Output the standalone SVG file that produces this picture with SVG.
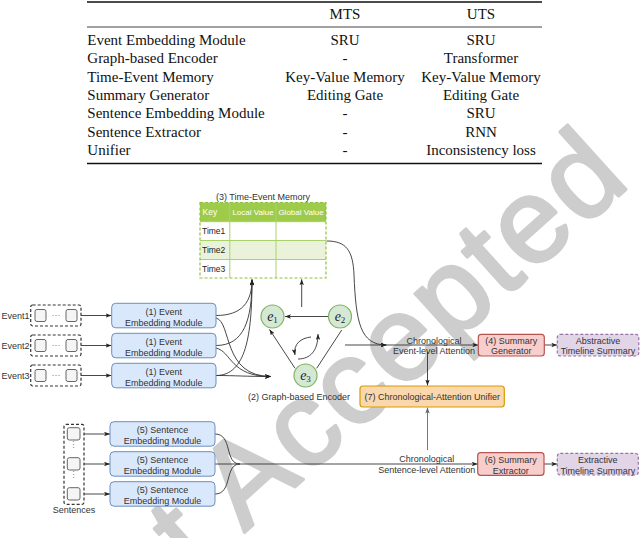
<svg xmlns="http://www.w3.org/2000/svg" width="640" height="538" viewBox="0 0 640 538">
<style>
.tb{font-family:"Liberation Serif",serif;font-size:15px;fill:#111}
.tc{text-anchor:middle}
.t9{font-family:"Liberation Sans",Arial,sans-serif;font-size:9px;fill:#333}
.mid{text-anchor:middle}
.blue{fill:#dae8fc;stroke:#6c8ebf;stroke-width:1}
.red{fill:#f8cecc;stroke:#b85450;stroke-width:1.2}
.pur{fill:#e1d5e7;stroke:#9673a6;stroke-width:1.2;stroke-dasharray:3 2}
.org{fill:#fad7ac;stroke:#d79b00;stroke-width:1.2}
.dash{fill:#fff;stroke:#333;stroke-width:1.2;stroke-dasharray:3 2}
.sq{fill:#f5f5f5;stroke:#666;stroke-width:1}
.node{fill:#d5e8d4;stroke:#82b366;stroke-width:1.2}
.ln{fill:none;stroke:#333;stroke-width:0.9}
.ar{marker-end:url(#ah)}
.ev{font-family:"Liberation Serif",serif;font-style:italic;font-size:14px;fill:#222}
</style>
<defs>
<marker id="ah" viewBox="0 0 8 6" refX="8" refY="3" markerWidth="6" markerHeight="4.5" orient="auto" markerUnits="userSpaceOnUse"><path d="M0,0 L8,3 L0,6 L2,3 z" fill="#222"/></marker>
<marker id="ahg" viewBox="0 0 8 6" refX="8" refY="3" markerWidth="6" markerHeight="4.5" orient="auto" markerUnits="userSpaceOnUse"><path d="M0,0 L8,3 L0,6 L2,3 z" fill="#666"/></marker>
</defs>
<rect width="640" height="538" fill="#fff"/>
<text x="634" y="182" transform="rotate(-42 634 182)" text-anchor="end" font-family="Liberation Sans,Arial,sans-serif" font-size="120" letter-spacing="3" fill="#cdcdcd" stroke="#cdcdcd" stroke-width="3" stroke-linejoin="round">Just Accepted</text>

<g id="table">
<line x1="87" y1="2" x2="542" y2="2" stroke="#111" stroke-width="1.4"/>
<line x1="87" y1="27" x2="542" y2="27" stroke="#111" stroke-width="0.8"/>
<line x1="87" y1="163.5" x2="542" y2="163.5" stroke="#111" stroke-width="1.4"/>
<text class="tb tc" x="345" y="19">MTS</text>
<text class="tb tc" x="481" y="19">UTS</text>
<text class="tb" x="87.3" y="45">Event Embedding Module</text>
<text class="tb tc" x="345" y="45">SRU</text>
<text class="tb tc" x="481" y="45">SRU</text>
<text class="tb" x="87.3" y="63.3">Graph-based Encoder</text>
<text class="tb tc" x="345" y="63.3">-</text>
<text class="tb tc" x="481" y="63.3">Transformer</text>
<text class="tb" x="87.3" y="81.7">Time-Event Memory</text>
<text class="tb tc" x="345" y="81.7">Key-Value Memory</text>
<text class="tb tc" x="481" y="81.7">Key-Value Memory</text>
<text class="tb" x="87.3" y="100">Summary Generator</text>
<text class="tb tc" x="345" y="100">Editing Gate</text>
<text class="tb tc" x="481" y="100">Editing Gate</text>
<text class="tb" x="87.3" y="118.3">Sentence Embedding Module</text>
<text class="tb tc" x="345" y="118.3">-</text>
<text class="tb tc" x="481" y="118.3">SRU</text>
<text class="tb" x="87.3" y="136.7">Sentence Extractor</text>
<text class="tb tc" x="345" y="136.7">-</text>
<text class="tb tc" x="481" y="136.7">RNN</text>
<text class="tb" x="87.3" y="155">Unifier</text>
<text class="tb tc" x="345" y="155">-</text>
<text class="tb tc" x="481" y="155">Inconsistency loss</text>
</g>

<g id="connectors">
<line class="ln ar" x1="81" y1="315.5" x2="111.5" y2="315.5"/>
<line class="ln ar" x1="81" y1="345.5" x2="111.5" y2="345.5"/>
<line class="ln ar" x1="81" y1="375.5" x2="111.5" y2="375.5"/>
<path class="ln ar" d="M216,315.5 C242,315.5 252,302 252,279.5"/>
<path class="ln ar" d="M216,345.5 C244,345.5 252,320 252,279.5"/>
<path class="ln ar" d="M216,375.5 C246,375.5 252,335 252,279.5"/>
<path class="ln ar" d="M216,318 C232,322 222,376.5 271,376.5"/>
<path class="ln ar" d="M216,348 C232,352 230,376.5 271,376.5"/>
<path class="ln ar" d="M216,375.5 C236,375.5 245,376.5 271,376.5"/>
<line class="ln ar" x1="301.7" y1="307" x2="301.7" y2="279.3"/>
<line class="ln ar" x1="328" y1="316.5" x2="285" y2="316.5"/>
<line class="ln ar" x1="295" y1="368.3" x2="269.5" y2="329.5"/>
<line class="ln" x1="316.7" y1="368.3" x2="341.7" y2="330"/>
<path class="ln ar" d="M311,337 C301,338 293,344 295,355"/>
<path class="ln ar" d="M298,359 C310,359 318,351 318,334"/>
<path class="ln ar" d="M326.5,241 C346,241 353,250 354,275 C356,322 360,345 386.5,345"/>
<line class="ln ar" x1="345" y1="345" x2="386.5" y2="345"/>
<line class="ln ar" x1="386.5" y1="345" x2="478.3" y2="345"/>
<line class="ln ar" x1="427.5" y1="352" x2="427.5" y2="385.5"/>
<line class="ln ar" x1="544.3" y1="345" x2="557.3" y2="345"/>
<line x1="427.5" y1="450" x2="427.5" y2="407.5" stroke="#777" stroke-width="1" marker-end="url(#ahg)"/>
<line class="ln ar" x1="80" y1="434" x2="110" y2="434"/>
<line class="ln ar" x1="80" y1="464" x2="110" y2="464"/>
<line class="ln ar" x1="80" y1="494" x2="110" y2="494"/>
<path class="ln" d="M215,434 C233,434 224,464 240,464"/>
<path class="ln" d="M215,494 C233,494 224,464 240,464"/>
<line class="ln ar" x1="215" y1="464" x2="477.7" y2="464"/>
<line class="ln ar" x1="544" y1="464" x2="557.3" y2="464"/>
</g>

<g id="event1">
<text class="t9" x="29.5" y="319" text-anchor="end">Event1</text>
<rect class="dash" x="30.7" y="305" width="50.3" height="21" rx="2"/>
<rect class="sq" x="35" y="309.5" width="11" height="12" rx="2"/>
<rect class="sq" x="66" y="309.5" width="11" height="12" rx="2"/>
<text class="t9 mid" x="56" y="318" style="fill:#777">···</text>
</g>
<g id="event2">
<text class="t9" x="29.5" y="349" text-anchor="end">Event2</text>
<rect class="dash" x="30.7" y="335" width="50.3" height="21" rx="2"/>
<rect class="sq" x="35" y="339.5" width="11" height="12" rx="2"/>
<rect class="sq" x="66" y="339.5" width="11" height="12" rx="2"/>
<text class="t9 mid" x="56" y="348" style="fill:#777">···</text>
</g>
<g id="event3">
<text class="t9" x="29.5" y="379" text-anchor="end">Event3</text>
<rect class="dash" x="30.7" y="365" width="50.3" height="21" rx="2"/>
<rect class="sq" x="35" y="369.5" width="11" height="12" rx="2"/>
<rect class="sq" x="66" y="369.5" width="11" height="12" rx="2"/>
<text class="t9 mid" x="56" y="378" style="fill:#777">···</text>
</g>

<g id="eventEmb1">
<rect class="blue" x="111.7" y="303.3" width="104.3" height="24.5" rx="4"/>
<text class="t9 mid" x="163.8" y="315">(1) Event</text>
<text class="t9 mid" x="163.8" y="325.5">Embedding Module</text>
</g>
<g id="eventEmb2">
<rect class="blue" x="111.7" y="333.3" width="104.3" height="24.5" rx="4"/>
<text class="t9 mid" x="163.8" y="345">(1) Event</text>
<text class="t9 mid" x="163.8" y="355.5">Embedding Module</text>
</g>
<g id="eventEmb3">
<rect class="blue" x="111.7" y="363.3" width="104.3" height="24.5" rx="4"/>
<text class="t9 mid" x="163.8" y="375">(1) Event</text>
<text class="t9 mid" x="163.8" y="385.5">Embedding Module</text>
</g>

<g id="memory">
<text class="t9 mid" x="263" y="199.7">(3) Time-Event Memory</text>
<rect x="200" y="202.5" width="126" height="19.2" fill="#9fcb4a"/>
<rect x="200" y="240.5" width="126" height="19" fill="#eaf3da"/>
<g stroke="#a9d36a" stroke-width="1">
<line x1="200" y1="221.7" x2="326" y2="221.7"/>
<line x1="200" y1="240.5" x2="326" y2="240.5"/>
<line x1="200" y1="259.5" x2="326" y2="259.5"/>
<line x1="229.8" y1="202.5" x2="229.8" y2="278"/>
<line x1="276" y1="202.5" x2="276" y2="278"/>
</g>
<rect x="200" y="202.5" width="126" height="75.5" fill="none" stroke="#8fc140" stroke-width="1.2" stroke-dasharray="3 2"/>
<text x="202.5" y="215" font-family="Liberation Sans,Arial,sans-serif" font-size="8.5" fill="#fff">Key</text>
<text x="253" y="215" text-anchor="middle" font-family="Liberation Sans,Arial,sans-serif" font-size="8" fill="#fff">Local Value</text>
<text x="301" y="215" text-anchor="middle" font-family="Liberation Sans,Arial,sans-serif" font-size="8" fill="#fff">Global Value</text>
<text x="202" y="234.2" font-family="Liberation Sans,Arial,sans-serif" font-size="8.5" fill="#222">Time1</text>
<text x="202" y="253.2" font-family="Liberation Sans,Arial,sans-serif" font-size="8.5" fill="#222">Time2</text>
<text x="202" y="272" font-family="Liberation Sans,Arial,sans-serif" font-size="8.5" fill="#222">Time3</text>
</g>

<g id="graph">
<g id="e1"><circle class="node" cx="272.5" cy="316.5" r="11.5"/><text class="ev" x="272.5" y="320.5" text-anchor="middle">e<tspan font-size="9" font-style="normal" dy="2.5">1</tspan></text></g>
<g id="e2"><circle class="node" cx="340" cy="316.5" r="11.5"/><text class="ev" x="340" y="320.5" text-anchor="middle">e<tspan font-size="9" font-style="normal" dy="2.5">2</tspan></text></g>
<g id="e3"><circle class="node" cx="305.5" cy="375.5" r="11.5"/><text class="ev" x="305.5" y="379.5" text-anchor="middle">e<tspan font-size="9" font-style="normal" dy="2.5">3</tspan></text></g>
<text class="t9 mid" x="299" y="400">(2) Graph-based Encoder</text>
</g>

<g id="eventAttention">
<text class="t9 mid" x="434" y="343.6">Chronological</text>
<text class="t9 mid" x="434" y="354.2">Event-level Attention</text>
</g>
<g id="summaryGenerator">
<rect class="red" x="478.3" y="334.3" width="66" height="21.7" rx="3"/>
<text class="t9 mid" x="511.3" y="343.9">(4) Summary</text>
<text class="t9 mid" x="511.3" y="354.2">Generator</text>
</g>
<g id="abstractive">
<rect class="pur" x="557.3" y="334.3" width="81.5" height="21.7" rx="3"/>
<text class="t9 mid" x="598" y="343.9">Abstractive</text>
<text class="t9 mid" x="598" y="354.2">Timeline Summary</text>
</g>
<g id="unifier">
<rect class="org" x="360" y="386" width="144.3" height="21" rx="3"/>
<text class="t9 mid" x="432.2" y="399.7">(7) Chronological-Attention Unifier</text>
</g>

<g id="sentences">
<rect class="dash" x="64" y="424.3" width="20" height="80" rx="2"/>
<rect class="sq" x="67.3" y="427.7" width="12.7" height="12.3" rx="2"/>
<rect class="sq" x="67.3" y="457.7" width="12.7" height="12.3" rx="2"/>
<rect class="sq" x="67.3" y="487.7" width="12.7" height="12.3" rx="2"/>
<text class="t9 mid" x="73.6" y="448" style="fill:#888" font-size="7">⋮</text>
<text class="t9 mid" x="73.6" y="478" style="fill:#888" font-size="7">⋮</text>
<text class="t9 mid" x="74" y="513.2">Sentences</text>
</g>
<g id="sentEmb1">
<rect class="blue" x="110" y="421.7" width="105" height="24.5" rx="4"/>
<text class="t9 mid" x="162.5" y="433.2">(5) Sentence</text>
<text class="t9 mid" x="162.5" y="444">Embedding Module</text>
</g>
<g id="sentEmb2">
<rect class="blue" x="110" y="451.7" width="105" height="24.5" rx="4"/>
<text class="t9 mid" x="162.5" y="463.2">(5) Sentence</text>
<text class="t9 mid" x="162.5" y="474">Embedding Module</text>
</g>
<g id="sentEmb3">
<rect class="blue" x="110" y="481.7" width="105" height="24.5" rx="4"/>
<text class="t9 mid" x="162.5" y="493.2">(5) Sentence</text>
<text class="t9 mid" x="162.5" y="504">Embedding Module</text>
</g>

<g id="sentenceAttention">
<text class="t9 mid" x="426.7" y="462">Chronological</text>
<text class="t9 mid" x="426.7" y="472.5">Sentence-level Attention</text>
</g>
<g id="summaryExtractor">
<rect class="red" x="477.7" y="452.7" width="66.3" height="22.6" rx="3"/>
<text class="t9 mid" x="510.8" y="463.2">(6) Summary</text>
<text class="t9 mid" x="510.8" y="473.9">Extractor</text>
</g>
<g id="extractive">
<rect class="pur" x="557.3" y="453.3" width="81" height="21.7" rx="3"/>
<text class="t9 mid" x="597.8" y="463.2">Extractive</text>
<text class="t9 mid" x="597.8" y="473.9">Timeline Summary</text>
</g>
</svg>
